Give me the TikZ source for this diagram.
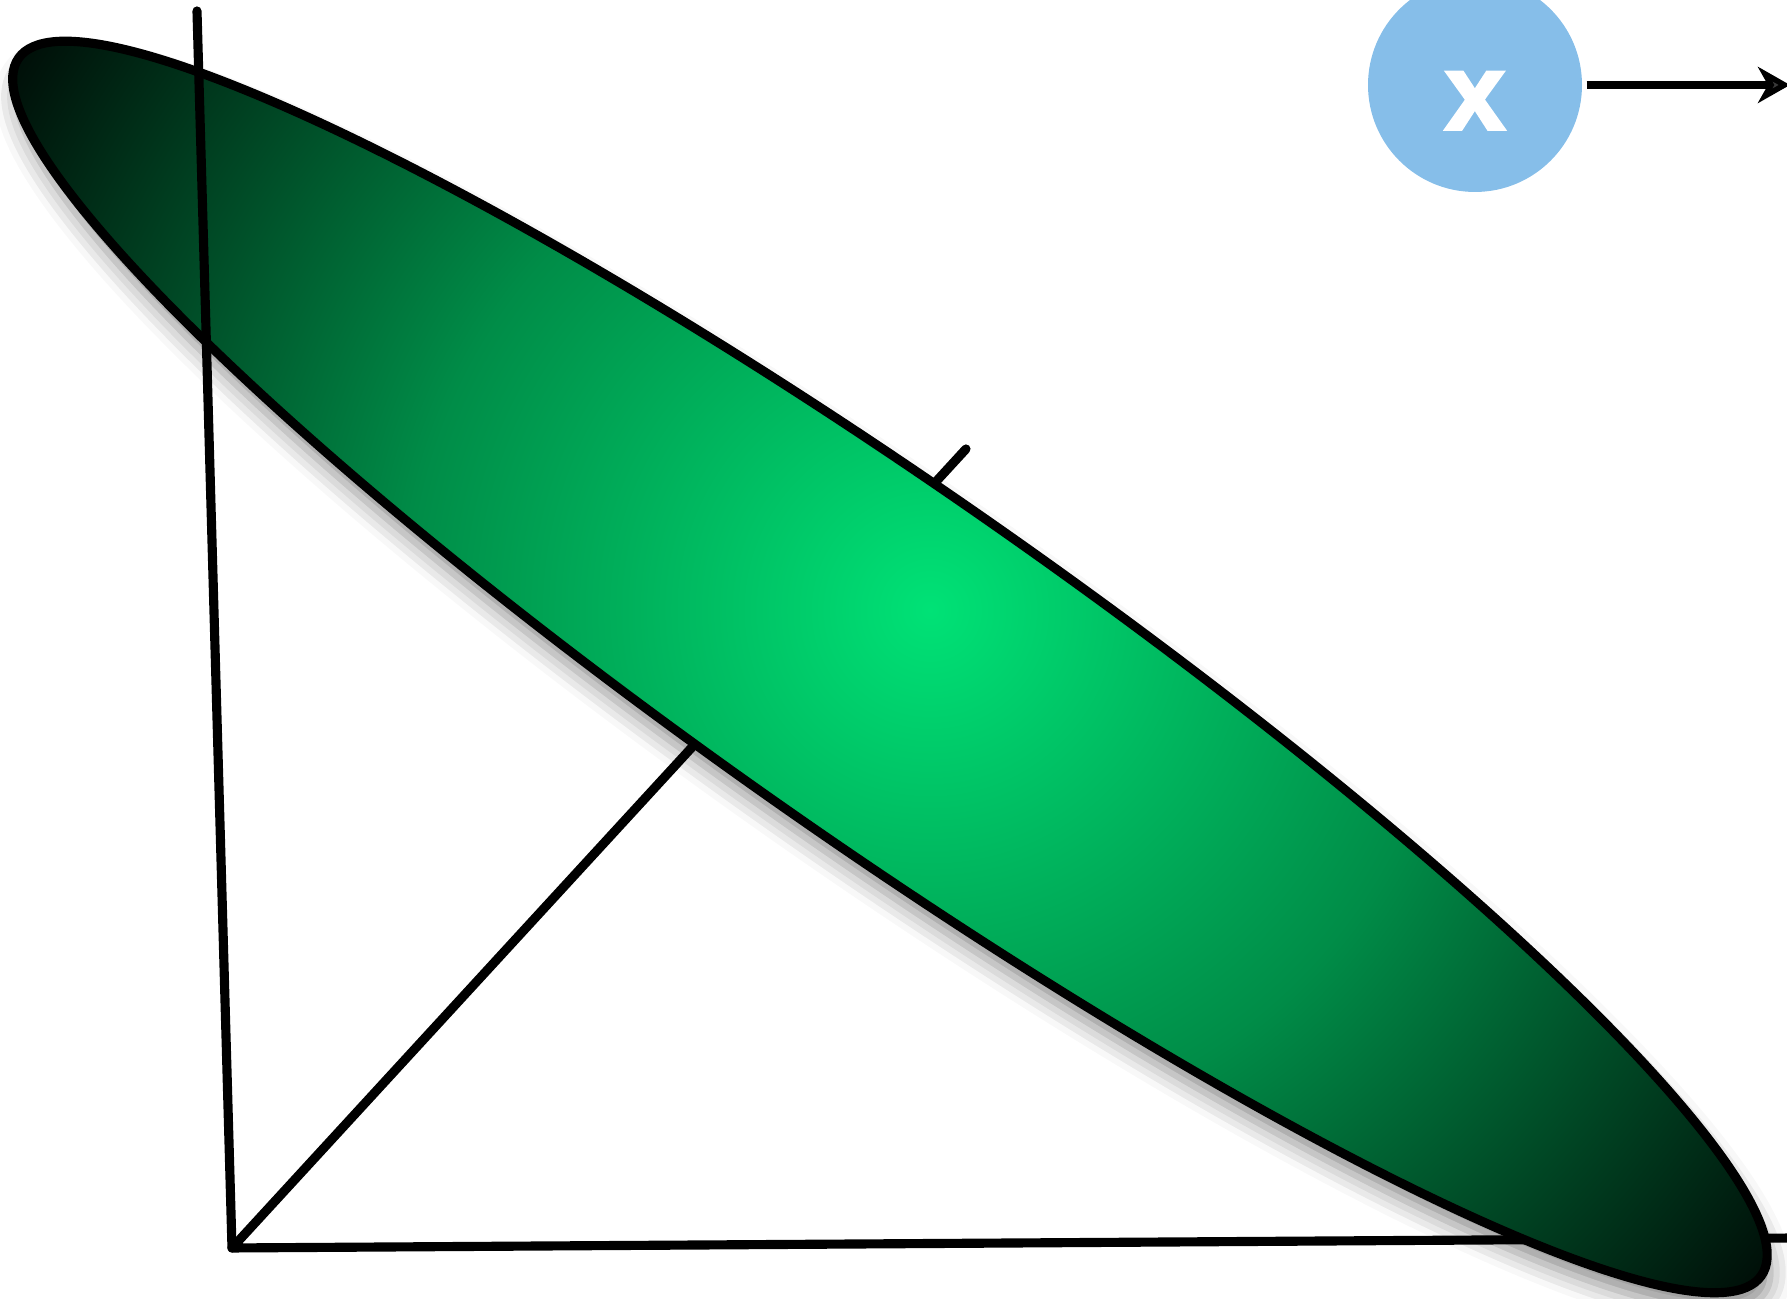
\documentclass[tikz,border=0pt]{standalone}
\usepackage{fontspec}
\newfontfamily\labelfont{Liberation Sans}[BoldFeatures={FakeBold=2.5}]
\usetikzlibrary{arrows.meta,shadows.blur}
\definecolor{bubblecol}{HTML}{86BEE9}
\pgfdeclareradialshading{leafshade}{\pgfpoint{0bp}{0bp}}{rgb(0bp)=(0,0.886,0.463); rgb(12bp)=(0,0.55,0.28); rgb(25bp)=(0,0.035,0.02); rgb(50bp)=(0,0.035,0.02)}
\begin{document}
\begin{tikzpicture}[x=0.1mm, y=0.1mm,
  axis/.style={line width=2.6pt, line cap=round, line join=round},
  leafpos/.style={rotate around={-34.94:(C)}},
  bubble/.style={circle, fill=bubblecol, minimum size=21.4mm, inner sep=0pt,
    font=\labelfont\bfseries\fontsize{31}{31}\selectfont, text=white,
    text height=8.9mm, text depth=0pt},
  arrowline/.style={line width=2.5pt, -{Stealth[length=3.2mm, width=3.6mm, inset=1mm]}}]
\useasboundingbox (0,0) rectangle (1787,1299);
\clip (0,0) rectangle (1787,1299);
\coordinate (O) at (232,51);
\coordinate (ztop) at (197,1288);
\coordinate (xend) at (1800,61);
\coordinate (yend) at (966,850);
\coordinate (C) at (890,632);
\coordinate (G) at (930,689);
% axes behind the leaf
\draw[axis] (xend) -- (O) -- (yend);
% shadow
\path[leafpos, blur shadow={shadow xshift=1pt, shadow yshift=-5pt, shadow blur radius=6pt, shadow opacity=45}]
  (C) ellipse [x radius=1063, y radius=176];
% leaf fill
\begin{scope}
  \clip[leafpos] (C) ellipse [x radius=1063, y radius=176];
  \shade[shading=leafshade] (G) circle [radius=1090];
\end{scope}
\draw[leafpos, line width=2.6pt] (C) ellipse [x radius=1063, y radius=176];
% vertical axis in front
\draw[axis] (O) -- (ztop);
% bubble and arrow
\node[bubble] (xn) at (1475,1214) {x};
\coordinate (aend) at (1790,1214);
\draw[arrowline, shorten <=0.4mm] (xn) -- (aend);
\end{tikzpicture}
\end{document}
